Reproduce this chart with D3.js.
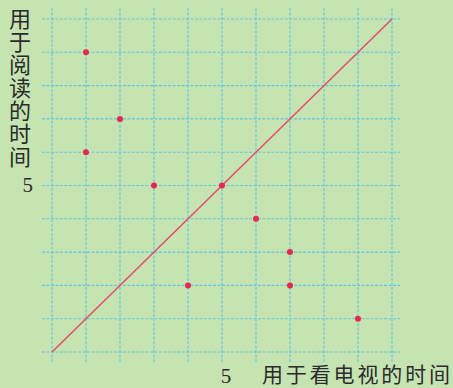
<!DOCTYPE html>
<html>
<head>
<meta charset="utf-8">
<script src="https://cdn.jsdelivr.net/npm/d3@7"></script>
<style>
  html, body { margin: 0; padding: 0; background: #c6e4b2; }
  svg { display: block; }
</style>
</head>
<body>
<svg id="chart"></svg>
<script>
const width = 453;
const height = 388;

// data
const gridTicks = [0, 1, 2, 3, 4, 5, 6, 7, 8, 9, 10];
const tvTime = [1, 2, 1, 3, 5, 6, 7, 4, 7, 9];
const readTime = [9, 7, 6, 5, 5, 4, 3, 2, 2, 1];
const diagonal = [[0, 0], [10, 10]];
const yLabel = "用于阅读的时间";
const xLabel = "用于看电视的时间";
const tickLabel = "5";

const svg = d3.select("#chart").attr("width", width).attr("height", height);

svg.append("rect")
  .attr("width", width)
  .attr("height", height)
  .attr("fill", "#c6e4b2");

const x = d3.scaleLinear().domain([0, 10]).range([52, 392]);
const y = d3.scaleLinear().domain([0, 10]).range([352, 19]);

const grid = svg.append("g")
  .attr("stroke", "#62c6de")
  .attr("stroke-width", 1.1)
  .attr("stroke-dasharray", "3,1.5");

grid.selectAll(".v")
  .data(gridTicks)
  .enter()
  .append("line")
  .attr("x1", d => x(d))
  .attr("x2", d => x(d))
  .attr("y1", 8)
  .attr("y2", 363);

grid.selectAll(".h")
  .data(gridTicks)
  .enter()
  .append("line")
  .attr("y1", d => y(d))
  .attr("y2", d => y(d))
  .attr("x1", 42)
  .attr("x2", 400);

// the diagonal line
svg.append("path")
  .datum(diagonal)
  .attr("d", d3.line().x(d => x(d[0])).y(d => y(d[1])))
  .attr("stroke", "#e4506a")
  .attr("stroke-width", 1.6)
  .attr("fill", "none");

svg.selectAll(".dot")
  .data(tvTime.map((d, i) => [d, readTime[i]]))
  .enter()
  .append("circle")
  .attr("cx", d => x(d[0]))
  .attr("cy", d => y(d[1]))
  .attr("r", 3)
  .attr("fill", "#e8284f");

const textColor = "#2b2b2b";
const cjk = "'Noto Sans CJK SC', sans-serif";

// vertical y label, one character per line
svg.selectAll(".ylab")
  .data(yLabel.split(""))
  .enter()
  .append("text")
  .attr("x", 20)
  .attr("y", (d, i) => 27 + i * 23)
  .attr("text-anchor", "middle")
  .attr("font-family", cjk)
  .attr("font-size", 22)
  .attr("fill", textColor)
  .text(d => d);

svg.append("text")
  .attr("x", 33)
  .attr("y", 192)
  .attr("text-anchor", "end")
  .attr("font-family", "'Liberation Serif', serif")
  .attr("font-size", 21)
  .attr("fill", textColor)
  .text(tickLabel);

svg.append("text")
  .attr("x", x(5) + 4)
  .attr("y", 383)
  .attr("text-anchor", "middle")
  .attr("font-family", "'Liberation Serif', serif")
  .attr("font-size", 21)
  .attr("fill", textColor)
  .text(tickLabel);

svg.append("text")
  .attr("x", 262)
  .attr("y", 382)
  .attr("font-family", cjk)
  .attr("font-size", 21)
  .attr("textLength", 188)
  .attr("fill", textColor)
  .text(xLabel);
</script>
</body>
</html>
